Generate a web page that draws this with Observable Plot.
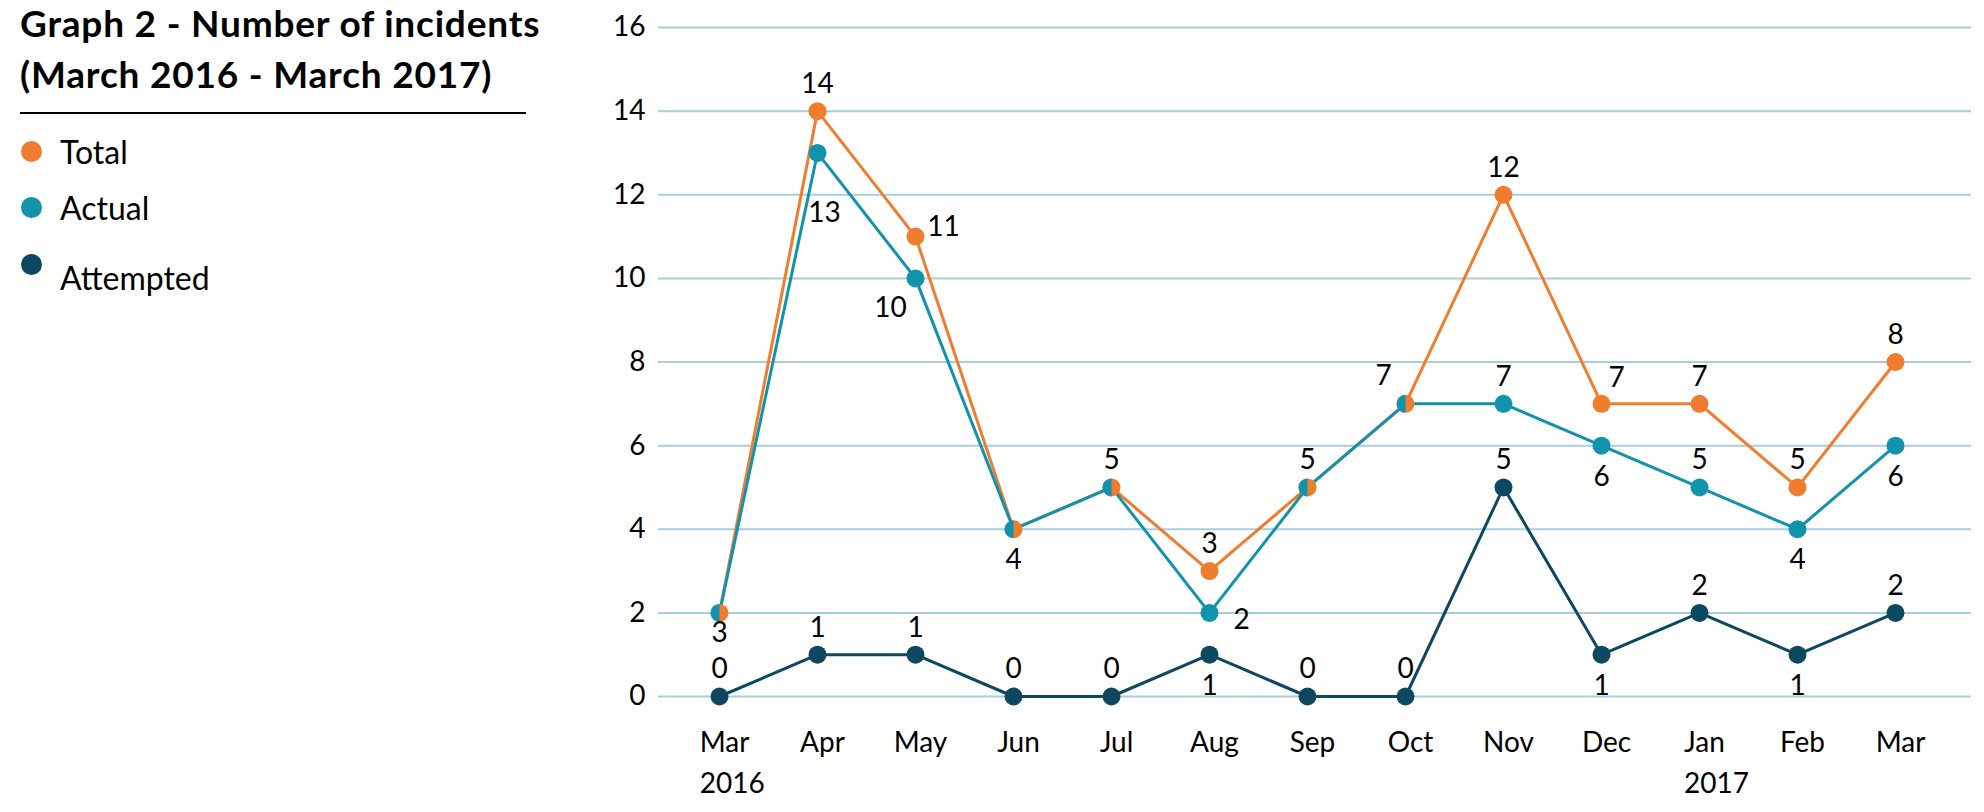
<!DOCTYPE html>
<html>
<head>
<meta charset="utf-8">
<title>Graph 2 - Number of incidents</title>
<script src="https://cdn.jsdelivr.net/npm/d3@7"></script>
<script src="https://cdn.jsdelivr.net/npm/@observablehq/plot@0.6"></script>
<style>
  html, body { margin: 0; padding: 0; background: #fff; }
  body { font-family: Lato, "Open Sans", sans-serif; color: #000; }
  #page { display: flex; width: 1984px; height: 812px; }
  #side { width: 560px; flex: none; position: relative; }
  #title { position: absolute; left: 20px; top: -3px; margin: 0; font-weight: 700; font-size: 37px; letter-spacing: 0.8px; line-height: 51px; white-space: nowrap; }
  #rule { position: absolute; left: 20px; top: 112px; width: 506px; height: 0; border-top: 2px solid #000; }
  #legend { position: absolute; left: 21px; top: 123px; }
  .item { display: flex; align-items: center; height: 56.5px; font-size: 32px; }
  .dot { width: 21px; height: 21px; border-radius: 50%; margin-right: 18px; flex: none; }
  .item.low .name { position: relative; top: 13px; }
  #chart { flex: none; }
</style>
</head>
<body>
<div id="page">
  <div id="side">
    <h1 id="title">Graph 2 - Number of incidents<br>(March 2016 - March 2017)</h1>
    <div id="rule"></div>
    <div id="legend"></div>
  </div>
  <div id="chart"></div>
</div>
<script>
// Monthly incident counts, March 2016 to March 2017
const months = ["Mar 2016", "Apr 2016", "May 2016", "Jun 2016", "Jul 2016", "Aug 2016", "Sep 2016",
                "Oct 2016", "Nov 2016", "Dec 2016", "Jan 2017", "Feb 2017", "Mar 2017"];
const monthLabels = ["Mar", "Apr", "May", "Jun", "Jul", "Aug", "Sep", "Oct", "Nov", "Dec", "Jan", "Feb", "Mar"];
const yearLabels = ["2016", "", "", "", "", "", "", "", "", "", "2017", "", ""];
const yTicks = [0, 2, 4, 6, 8, 10, 12, 14, 16];

const total     = [2, 14, 11, 4, 5, 3, 5, 7, 12, 7, 7, 5, 8];
const actual    = [2, 13, 10, 4, 5, 2, 5, 7, 7, 6, 5, 4, 6];
const attempted = [0, 1, 1, 0, 0, 1, 0, 0, 5, 1, 2, 1, 2];

// Data label text for the Total series, as printed on the published chart
const totalLabels = ["3", "14", "11", "4", "5", "3", "5", "7", "12", "7", "7", "5", "8"];

// Where each data label sits relative to its point (null = no label)
const totalLabelAt     = ["belowNear", "above", "right", "below", "above", "above", "above", "aboveLeft", "above", "aboveRight", "above", "above", "above"];
const actualLabelAt    = [null, "farBelow", "belowLeft", null, null, "belowRight", null, null, "above", "below", "above", "below", "below"];
const attemptedLabelAt = ["above", "above", "above", "above", "above", "below", "above", "above", "above", "below", "above", "below", "above"];

const seriesNames = ["Total", "Actual", "Attempted"];
const seriesColors = ["#f07d2e", "#1192ad", "#0d4760"];
const gridColor = "#a6cedd";

// Offsets [dx, dy] of a label's centre from its point, per placement
const placements = {
  above: [0, -27],
  below: [0, 31],
  belowNear: [0, 20],
  farBelow: [7, 60],
  right: [28, -10],
  belowRight: [32, 7],
  belowLeft: [-25, 30],
  aboveLeft: [-22, -28],
  aboveRight: [15, -26]
};

// Legend
const legend = d3.select("#legend");
seriesNames.forEach((name, i) => {
  const item = legend.append("div").attr("class", "item" + (name === "Attempted" ? " low" : ""));
  item.append("span").attr("class", "dot").style("background", seriesColors[i]);
  item.append("span").attr("class", "name").text(name);
});

// Tidy rows
const pts = (vals, name) => months.map((m, i) => ({series: name, month: m, value: vals[i], i}));
const totalPts = pts(total, "Total");
const actualPts = pts(actual, "Actual");
const attemptedPts = pts(attempted, "Attempted");

const labelRows = [];
months.forEach((m, i) => {
  labelRows.push({month: m, value: total[i], text: totalLabels[i], at: totalLabelAt[i]});
  if (actualLabelAt[i]) labelRows.push({month: m, value: actual[i], text: String(actual[i]), at: actualLabelAt[i]});
  labelRows.push({month: m, value: attempted[i], text: String(attempted[i]), at: attemptedLabelAt[i]});
});

// Left half of a circle, used where Actual coincides with Total
const leftHalf = {
  draw(context, size) {
    const r = Math.sqrt(size / Math.PI);
    context.moveTo(0, -r);
    context.arc(0, 0, r, -Math.PI / 2, Math.PI / 2, true);
    context.closePath();
  }
};

const fontSize = 28;
const measure = document.createElement("canvas").getContext("2d");
measure.font = `${fontSize}px Lato`;

const labelMarks = Object.entries(placements).map(([key, [dx, dy]]) =>
  Plot.text(labelRows.filter(d => d.at === key), {
    x: "month", y: "value", text: "text", dx, dy, fontSize, fill: "#000"
  })
);

// Year line under the month name, left-aligned with it
const yearMarks = months.map((m, i) => {
  if (!yearLabels[i]) return null;
  const w = measure.measureText(monthLabels[i]).width;
  return Plot.text([m], {
    x: d => d, text: () => yearLabels[i], frameAnchor: "bottom",
    textAnchor: "start", lineAnchor: "top", dx: 5 - w / 2, dy: 77, fontSize, fill: "#000"
  });
}).filter(Boolean);

const [cTotal, cActual, cAttempted] = seriesColors;

const chart = Plot.plot({
  width: 1424,
  height: 812,
  marginLeft: 98,
  marginRight: 13,
  marginTop: 27,
  marginBottom: 116,
  style: {fontFamily: "Lato, sans-serif", fontSize: "28px", color: "#000", background: "transparent"},
  x: {type: "point", domain: months, range: [156.7, 1336.7], padding: 0},
  y: {domain: [0, 16]},
  marks: [
    Plot.gridY({ticks: yTicks, stroke: gridColor, strokeOpacity: 1, strokeWidth: 2}),
    Plot.axisY({ticks: yTicks, tickSize: 0, tickPadding: 13, fontSize, label: null}),
    Plot.axisX({tickSize: 0, tickPadding: 36, fontSize, dx: 5, label: null,
                tickFormat: d => monthLabels[months.indexOf(d)]}),
    ...yearMarks,
    Plot.line(totalPts, {x: "month", y: "value", stroke: cTotal, strokeWidth: 3}),
    Plot.line(actualPts, {x: "month", y: "value", stroke: cActual, strokeWidth: 3}),
    Plot.line(attemptedPts, {x: "month", y: "value", stroke: cAttempted, strokeWidth: 3}),
    Plot.dot(totalPts, {x: "month", y: "value", r: 9, fill: cTotal}),
    Plot.dot(actualPts.filter(d => d.value !== total[d.i]), {x: "month", y: "value", r: 9, fill: cActual}),
    Plot.dot(actualPts.filter(d => d.value === total[d.i]), {x: "month", y: "value", r: 9, fill: cActual, symbol: leftHalf}),
    Plot.dot(attemptedPts, {x: "month", y: "value", r: 9, fill: cAttempted}),
    ...labelMarks
  ]
});

document.getElementById("chart").appendChild(chart);
</script>
</body>
</html>
